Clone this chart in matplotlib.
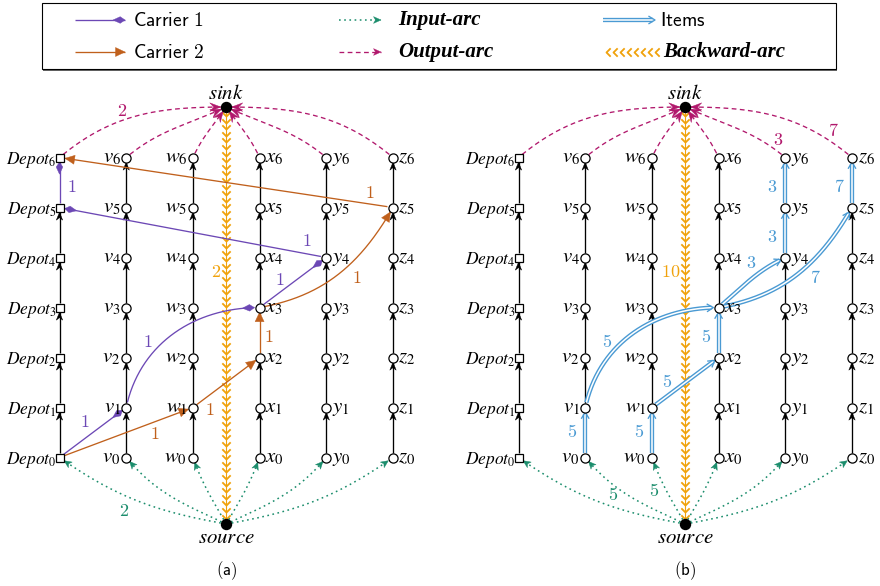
"""Time-expanded network for two carriers and the item flows it carries."""

import numpy as np
import matplotlib.pyplot as plt
from matplotlib.patches import Polygon, Rectangle
from matplotlib.path import Path

plt.rcParams["mathtext.fontset"] = "stix"

# ---- data -------------------------------------------------------------
COLUMNS = ["Depot", "v", "w", "x", "y", "z"]
LEVELS = [0, 1, 2, 3, 4, 5, 6]

CARRIER1_ARCS = [("Depot", 0, "v", 1), ("v", 1, "x", 3), ("x", 3, "y", 4),
                 ("y", 4, "Depot", 5), ("Depot", 5, "Depot", 6)]
CARRIER1_LOAD = [1, 1, 1, 1, 1]
CARRIER2_ARCS = [("Depot", 0, "w", 1), ("w", 1, "x", 2), ("x", 2, "x", 3),
                 ("x", 3, "z", 5), ("z", 5, "Depot", 6)]
CARRIER2_LOAD = [1, 1, 1, 1, 1]
ITEM_ARCS = [("v", 0, "v", 1), ("v", 1, "x", 3), ("w", 0, "w", 1),
             ("w", 1, "x", 2), ("x", 2, "x", 3), ("x", 3, "y", 4),
             ("x", 3, "z", 5), ("y", 4, "y", 5), ("y", 5, "y", 6),
             ("z", 5, "z", 6)]
ITEM_QTY = [5, 5, 5, 5, 5, 3, 7, 3, 3, 7]

INPUT_A = {"Depot": 2}
OUTPUT_A = {"Depot": 2}
BACKWARD_A = 2
INPUT_B = {"v": 5, "w": 5}
OUTPUT_B = {"y": 3, "z": 7}
BACKWARD_B = 10

# ---- layout / style ---------------------------------------------------
PURPLE = "#6c48b5"
ORANGE = "#c0601c"
GREEN = "#1b8d6c"
MAGENTA = "#b1186c"
BLUE = "#4a9ad3"
GOLD = "#f0a20c"

PANEL_X0 = {"a": 59.5, "b": 518.5}
COL_DX = 66.7
ROW_Y0 = 457.5
ROW_DY = 50
SINK_Y, SOURCE_Y = 107, 524
R_NODE = 4.6

# (kind, length, half width, notch) in pixels
HEADS = {
    "black": ("stealth", 8, 3.2, 2.5),
    "green": ("stealth", 7.5, 3.4, 2.0),
    "magenta": ("stealth", 11, 4.3, 4.0),
    "purple": ("kite", 12, 3.3, 0),
    "orange": ("latex", 9.5, 4.5, 0),
    "blue": ("open", 6, 3.6, 0),
}

# out / in angles of curved arcs (degrees, counter-clockwise from east)
BEND = {("v", 1, "x", 3): (78, 180), ("x", 3, "z", 5): (10, 240)}
ITEM_BEND = {("v", 1, "x", 3): (78, 180), ("x", 3, "z", 5): (10, 240),
             ("x", 3, "y", 4): (40, 205)}
OUT_BEND = {"Depot": (40, 180), "v": (40, 205), "w": (65, 235),
            "x": (115, 305), "y": (140, 335), "z": (140, 0)}
IN_BEND = {"Depot": (170, -35), "v": (155, -50), "w": (120, -70),
           "x": (60, 250), "y": (25, 230), "z": (10, 215)}

# flow label placement: (fraction along arc, dx, dy)
CARRIER1_LABEL_AT = [(0.5, -8, -10), (0.38, -10, -5), (0.5, -13, -2),
                     (0.06, -3, -13), (0.4, 12.5, 0)]
CARRIER2_LABEL_AT = [(0.7, 2, 12), (0.2, 3, 13), (0.4, 9, 0),
                     (0.6, 5, 16), (0.07, 0, -11)]
ITEM_LABEL_AT = [(0.5, -13, 0), (0.38, -10, -5), (0.5, -13, 0),
                 (0.3, -5, -10), (0.4, -13, 0), (0.7, -12, -7),
                 (0.6, 4, 16), (0.4, -13, 0), (0.4, -13, 0), (0.4, -13, 0)]
OUT_LABEL_AT = {"Depot": (0.38, 4, -11), "y": (0.1, 2, -10), "z": (0.15, 3, -10)}
IN_LABEL_AT = {"Depot": (0.6, 2, 17), "v": (0.7, 2, 12), "w": (0.5, -13, 0)}

CHEV_DOWN = Path([(-1, 1), (0, 0), (1, 1)])
CHEV_LEFT = Path([(1, 1), (0, 0), (1, -1)])


def node_xy(panel, col, lvl):
    return (PANEL_X0[panel] + COL_DX * COLUMNS.index(col), ROW_Y0 - ROW_DY * lvl)


def hub_xy(panel, which):
    return (PANEL_X0[panel] + 2.5 * COL_DX, SINK_Y if which == "sink" else SOURCE_Y)


def curve(p0, p3, bend=None, n=300):
    p0 = np.asarray(p0, float)
    p3 = np.asarray(p3, float)
    t = np.linspace(0, 1, n)[:, None]
    if bend is None:
        return p0 + (p3 - p0) * t
    a_out, a_in = np.radians(bend)
    d = 0.3915 * np.hypot(*(p3 - p0))
    p1 = p0 + d * np.array([np.cos(a_out), -np.sin(a_out)])
    p2 = p3 + d * np.array([np.cos(a_in), -np.sin(a_in)])
    return ((1 - t) ** 3 * p0 + 3 * (1 - t) ** 2 * t * p1
            + 3 * (1 - t) * t ** 2 * p2 + t ** 3 * p3)


def trim(pts, r0, r1):
    d0 = np.hypot(*(pts - pts[0]).T)
    d1 = np.hypot(*(pts - pts[-1]).T)
    return pts[(d0 >= r0) & (d1 >= r1)]


def point_at(pts, t):
    s = np.concatenate([[0], np.cumsum(np.hypot(*np.diff(pts, axis=0).T))])
    i = min(np.searchsorted(s, t * s[-1]), len(pts) - 1)
    return pts[i]


def draw_head(ax, pts, color, style, z):
    kind, L, W, notch = HEADS[style]
    tip = pts[-1]
    dist = np.hypot(*(pts - tip).T)
    ref = pts[dist >= 0.6 * L]
    ref = ref[-1] if len(ref) else pts[0]
    d = (tip - ref) / np.hypot(*(tip - ref))
    n = np.array([-d[1], d[0]])
    if kind == "open":
        xy = np.array([tip - L * d + W * n, tip, tip - L * d - W * n])
        ax.plot(xy[:, 0], xy[:, 1], color=color, lw=0.95, zorder=z + 0.1)
        return
    if kind == "kite":
        xy = [tip, tip - 0.4 * L * d + W * n, tip - L * d, tip - 0.4 * L * d - W * n]
    else:
        xy = [tip, tip - L * d + W * n, tip - (L - notch) * d, tip - L * d - W * n]
    ax.add_patch(Polygon(xy, closed=True, fc=color, ec=color, lw=0.3, zorder=z + 0.1))


def draw_arc(ax, pts, color, head, ls="-", lw=0.9, z=3):
    ax.plot(pts[:, 0], pts[:, 1], color=color, ls=ls, lw=lw, zorder=z,
            solid_capstyle="butt", dash_capstyle="butt")
    draw_head(ax, pts, color, head, z)


def draw_double(ax, pts, z=3):
    body = trim(pts, 0, 1.5)
    ax.plot(body[:, 0], body[:, 1], color=BLUE, lw=3.1, zorder=z, solid_capstyle="butt")
    ax.plot(body[:, 0], body[:, 1], color="white", lw=1.1, zorder=z + 0.05,
            solid_capstyle="butt")
    draw_head(ax, pts, BLUE, "blue", z)


def flow_label(ax, pts, value, place, color):
    t, dx, dy = place
    px, py = point_at(pts, t)
    ax.text(px + dx, py + dy, rf"$\mathsf{{{value}}}$", math_fontfamily="cm",
            fontsize=13, color=color, ha="center", va="center", zorder=8)


def draw_backward(ax, x, y0, y1, value):
    ax.plot([x, x], [y0 + 5, y1 - 5], color=GOLD, lw=0.8, zorder=2)
    ys = np.arange(y0 + 9, y1 - 5, 6.6)
    ax.plot(np.full_like(ys, x), ys, ls="none", marker=CHEV_DOWN, ms=6,
            mec=GOLD, mfc="none", mew=1.3, zorder=2)
    ax.text(x - 5, 272, rf"$\mathsf{{{value}}}$", math_fontfamily="cm",
            fontsize=13, color=GOLD, ha="right", va="center", zorder=8)


def draw_panel(ax, panel):
    sink = hub_xy(panel, "sink")
    source = hub_xy(panel, "source")

    if panel == "a":
        coloured = [(CARRIER1_ARCS, CARRIER1_LOAD, CARRIER1_LABEL_AT, PURPLE, "purple"),
                    (CARRIER2_ARCS, CARRIER2_LOAD, CARRIER2_LABEL_AT, ORANGE, "orange")]
        outputs, inputs, backward = OUTPUT_A, INPUT_A, BACKWARD_A
    else:
        coloured = []
        outputs, inputs, backward = OUTPUT_B, INPUT_B, BACKWARD_B

    used = set()
    for arcs, _, _, _, _ in coloured:
        used.update(arcs)
    if panel == "b":
        used.update(ITEM_ARCS)

    # waiting arcs along each column
    for col in COLUMNS:
        for lvl in LEVELS[:-1]:
            if (col, lvl, col, lvl + 1) in used:
                continue
            pts = trim(curve(node_xy(panel, col, lvl), node_xy(panel, col, lvl + 1)),
                       R_NODE, R_NODE)
            draw_arc(ax, pts, "black", "black", lw=0.95, z=2)

    # carriers
    for arcs, loads, places, color, head in coloured:
        for arc, load, place in zip(arcs, loads, places):
            c0, l0, c1, l1 = arc
            full = curve(node_xy(panel, c0, l0), node_xy(panel, c1, l1), BEND.get(arc))
            pts = trim(full, R_NODE, R_NODE)
            draw_arc(ax, pts, color, head, lw=0.95, z=3)
            flow_label(ax, full, load, place, color)

    # items
    if panel == "b":
        for arc, qty, place in zip(ITEM_ARCS, ITEM_QTY, ITEM_LABEL_AT):
            c0, l0, c1, l1 = arc
            full = curve(node_xy(panel, c0, l0), node_xy(panel, c1, l1), ITEM_BEND.get(arc))
            draw_double(ax, trim(full, R_NODE, R_NODE))
            flow_label(ax, full, qty, place, BLUE)

    # output arcs to the sink
    for col in COLUMNS:
        full = curve(node_xy(panel, col, LEVELS[-1]), sink, OUT_BEND[col])
        pts = trim(full, R_NODE, 5)
        draw_arc(ax, pts, MAGENTA, "magenta", ls=(0, (3.6, 2.6)), lw=0.95, z=2.5)
        if col in outputs:
            flow_label(ax, full, outputs[col], OUT_LABEL_AT[col], MAGENTA)

    # input arcs from the source
    for col in COLUMNS:
        full = curve(source, node_xy(panel, col, LEVELS[0]), IN_BEND[col])
        pts = trim(full, 5, R_NODE + 0.5)
        draw_arc(ax, pts, GREEN, "green", ls=(0, (1.1, 2.3)), lw=1.1, z=2.5)
        if col in inputs:
            flow_label(ax, full, inputs[col], IN_LABEL_AT[col], GREEN)

    draw_backward(ax, sink[0], sink[1], source[1], backward)

    # nodes
    for col in COLUMNS:
        xs = [node_xy(panel, col, l)[0] for l in LEVELS]
        ys = [node_xy(panel, col, l)[1] for l in LEVELS]
        ax.plot(xs, ys, ls="none", marker="s" if col == "Depot" else "o",
                ms=6.4 if col == "Depot" else 6.6, mfc="white", mec="black",
                mew=0.9, zorder=6)
        for l, x, y in zip(LEVELS, xs, ys):
            if col == "Depot":
                ax.text(x - 3, y + 6.5, rf"$Depot_{{{l}}}$", fontsize=12.5,
                        ha="right", va="baseline", zorder=7)
            elif col in ("v", "w"):
                ax.text(x - 5.5, y + 5, rf"${col}_{{{l}}}$", fontsize=15,
                        ha="right", va="baseline", zorder=7)
            else:
                ax.text(x + 5.5, y + 5, rf"${col}_{{{l}}}$", fontsize=15,
                        ha="left", va="baseline", zorder=7)

    ax.plot([sink[0], source[0]], [sink[1], source[1]], ls="none", marker="o",
            ms=7.2, color="black", zorder=6)
    ax.text(sink[0], sink[1] - 8, r"$sink$", fontsize=15, ha="center",
            va="baseline", zorder=7)
    ax.text(source[0], source[1] + 19, r"$source$", fontsize=15, ha="center",
            va="baseline", zorder=7)
    ax.text(sink[0], 571, rf"$\mathsf{{({panel})}}$", math_fontfamily="cm",
            fontsize=12, ha="center", va="center")


def draw_legend(ax):
    ax.add_patch(Rectangle((43.2, 4.5), 794, 66, fc="#666666", ec="none", zorder=1))
    ax.add_patch(Rectangle((42, 3), 794, 66, fc="white", ec="black", lw=0.8, zorder=1.1))
    rows = [20, 52]
    draw_arc(ax, curve((75, rows[0]), (125, rows[0])), PURPLE, "purple", lw=0.95)
    draw_arc(ax, curve((75, rows[1]), (125, rows[1])), ORANGE, "orange", lw=0.95)
    draw_arc(ax, curve((339, rows[0]), (381, rows[0])), GREEN, "green",
             ls=(0, (1.1, 2.3)), lw=1.1)
    draw_arc(ax, curve((339, rows[1]), (381, rows[1])), MAGENTA, "green",
             ls=(0, (3.6, 2.6)), lw=0.95)
    draw_double(ax, curve((603, rows[0]), (655, rows[0])))
    xs = np.arange(606, 656, 7)
    ax.plot(xs, np.full_like(xs, rows[1], dtype=float), ls="none", marker=CHEV_LEFT,
            ms=6, mec=GOLD, mfc="none", mew=1.3, zorder=3)
    sans = dict(math_fontfamily="cm", fontsize=14, ha="left", va="center", zorder=4)
    ax.text(133, rows[0], r"$\mathsf{Carrier\ 1}$", **sans)
    ax.text(133, rows[1], r"$\mathsf{Carrier\ 2}$", **sans)
    ax.text(660, rows[0], r"$\mathsf{Items}$", **sans)
    serif = dict(family="Liberation Serif", style="italic", weight="bold",
                 fontsize=15, ha="left", va="center", zorder=4)
    ax.text(398, rows[0], "Input-arc", **serif)
    ax.text(398, rows[1], "Output-arc", **serif)
    ax.text(663, rows[1], "Backward-arc", **serif)


fig = plt.figure(figsize=(8.8, 5.86), dpi=100)
ax = fig.add_axes([0, 0, 1, 1])
ax.set_xlim(0, 880)
ax.set_ylim(586, 0)
ax.axis("off")

draw_legend(ax)
draw_panel(ax, "a")
draw_panel(ax, "b")

fig.savefig("out.png", dpi=100)
plt.close(fig)
